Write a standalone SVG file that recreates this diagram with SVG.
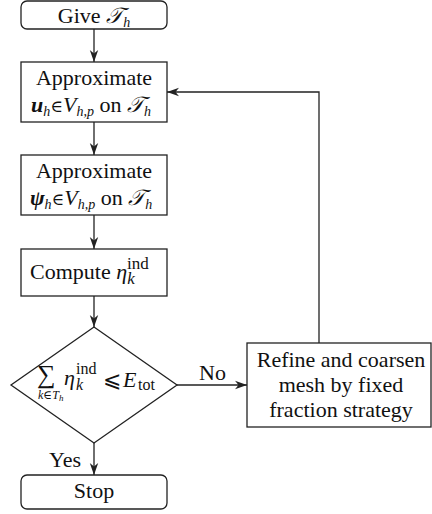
<svg xmlns="http://www.w3.org/2000/svg" width="432" height="514" viewBox="0 0 432 514">
<style>
.box{fill:#fff;stroke:#222;stroke-width:1.3}
.ln{fill:none;stroke:#222;stroke-width:1.3}
.t{font-family:'Liberation Serif','DejaVu Serif',serif;font-size:22px;fill:#111}
.m{font-style:italic}
.b{font-weight:bold;font-style:italic}
.s{font-size:14px}
.e{font-size:17px}
</style>
<defs>
<marker id="ah" markerUnits="userSpaceOnUse" markerWidth="14" markerHeight="10" viewBox="-13 -5 14 10" refX="0" refY="0" orient="auto">
<path d="M0,0 L-12,-4.2 L-8.5,0 L-12,4.2 Z" fill="#222"/>
</marker>
</defs>
<g id="connectors">
<line class="ln" x1="94" y1="29" x2="94" y2="62" marker-end="url(#ah)"/>
<line class="ln" x1="94" y1="122" x2="94" y2="155" marker-end="url(#ah)"/>
<line class="ln" x1="94" y1="215" x2="94" y2="249" marker-end="url(#ah)"/>
<line class="ln" x1="94" y1="296" x2="94" y2="327" marker-end="url(#ah)"/>
<line class="ln" x1="94" y1="443" x2="94" y2="475" marker-end="url(#ah)"/>
<line class="ln" x1="177" y1="385" x2="247" y2="385" marker-end="url(#ah)"/>
<polyline class="ln" points="319,343 319,92 167,92" marker-end="url(#ah)"/>
<text class="t" x="199" y="380">No</text>
<text class="t" x="49" y="467">Yes</text>
</g>
<g id="give">
<rect class="box" x="21" y="1" width="146" height="28" rx="6"/>
<text class="t" x="94" y="23" text-anchor="middle">Give <tspan class="m">𝒯</tspan><tspan class="m s" dy="4">h</tspan></text>
</g>
<g id="approx-u">
<rect class="box" x="21" y="62" width="146" height="60"/>
<text class="t" x="94" y="85" text-anchor="middle">Approximate</text>
<text class="t" x="91" y="112" text-anchor="middle"><tspan class="b">u</tspan><tspan class="m s" dy="4">h</tspan><tspan class="e" dy="-4">∈</tspan><tspan class="m">V</tspan><tspan class="m s" dy="4">h,p</tspan><tspan dy="-4"> on </tspan><tspan class="m">𝒯</tspan><tspan class="m s" dy="4">h</tspan></text>
</g>
<g id="approx-psi">
<rect class="box" x="21" y="155" width="146" height="60"/>
<text class="t" x="94" y="178" text-anchor="middle">Approximate</text>
<text class="t" x="91" y="205" text-anchor="middle"><tspan class="b">ψ</tspan><tspan class="m s" dy="4">h</tspan><tspan class="e" dy="-4">∈</tspan><tspan class="m">V</tspan><tspan class="m s" dy="4">h,p</tspan><tspan dy="-4"> on </tspan><tspan class="m">𝒯</tspan><tspan class="m s" dy="4">h</tspan></text>
</g>
<g id="compute">
<rect class="box" x="21" y="249" width="146" height="47"/>
<text class="t" x="30" y="279">Compute <tspan class="m">η</tspan><tspan style="font-size:17px" dy="-10">ind</tspan><tspan class="m" style="font-size:17px" dx="-21.7" dy="15">k</tspan></text>
</g>
<g id="decision">
<polygon class="box" points="94,327 177,385 94,443 11,385"/>
<text class="t" x="37" y="383" style="font-size:26px">∑</text>
<text class="t" x="38" y="399" style="font-size:12px"><tspan class="m">k</tspan>∈<tspan class="m">T</tspan><tspan class="m" style="font-size:9px" dy="2">h</tspan></text>
<text class="t m" x="64" y="385">η</text>
<text class="t" x="76" y="374" style="font-size:16px">ind</text>
<text class="t m" x="76" y="390" style="font-size:16px">k</text>
<text class="t" x="103" y="387">⩽</text>
<text class="t m" x="123" y="387">E</text>
<text class="t" x="138" y="390" style="font-size:16px">tot</text>
</g>
<g id="refine">
<rect class="box" x="247" y="343" width="184" height="84"/>
<text class="t" x="341" y="367" text-anchor="middle">Refine and coarsen</text>
<text class="t" x="341" y="392" text-anchor="middle">mesh by fixed</text>
<text class="t" x="341" y="417" text-anchor="middle">fraction strategy</text>
</g>
<g id="stop">
<rect class="box" x="21" y="475" width="146" height="34" rx="6"/>
<text class="t" x="94" y="498" text-anchor="middle">Stop</text>
</g>
</svg>
